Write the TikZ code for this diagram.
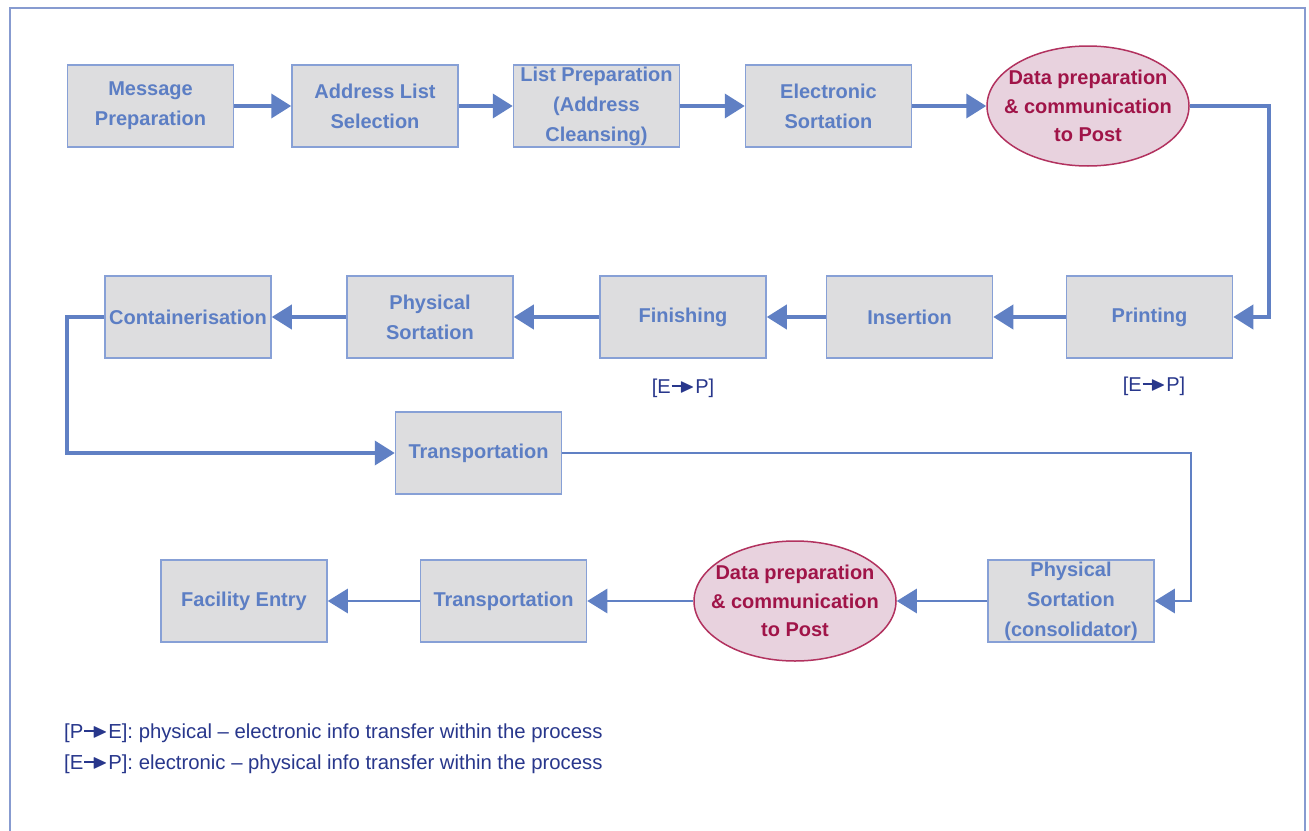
\documentclass[tikz,border=0pt]{standalone}
\usepackage{amssymb}
\usepackage{fontspec}
\setmainfont{Liberation Sans}
\usetikzlibrary{arrows.meta,shapes.geometric}

\definecolor{boxfill}{RGB}{221,221,223}
\definecolor{boxline}{RGB}{135,160,214}
\definecolor{boxtext}{RGB}{92,126,196}
\definecolor{flowblue}{RGB}{96,128,196}
\definecolor{ovalfill}{RGB}{232,210,222}
\definecolor{ovalline}{RGB}{178,50,95}
\definecolor{ovaltext}{RGB}{160,20,72}
\definecolor{legendtext}{RGB}{40,55,140}
\definecolor{framecol}{RGB}{135,155,208}

% small "line with filled head" symbol used in the [E->P] tags
\newcommand{\xfer}{\kern0.05em\rule[0.33em]{0.5em}{0.08em}\kern-0.12em\raisebox{0.02em}{$\blacktriangleright$}\kern0.02em}

\tikzset{
  stepbox/.style={draw=boxline, line width=1.5pt, fill=boxfill,
    minimum width=166pt, minimum height=82pt, inner sep=0pt, align=center,
    text=boxtext, font=\fontsize{20}{30}\selectfont\bfseries},
  oval/.style={ellipse, draw=ovalline, line width=1.5pt, fill=ovalfill,
    minimum width=202pt, minimum height=120pt, inner xsep=-13pt, inner ysep=0pt,
    align=center, text=ovaltext, font=\fontsize{20}{28.5}\selectfont\bfseries},
  flow/.style={draw=flowblue, line width=3.8pt,
    -{Triangle[length=20pt,width=24pt]}},
  flowthin/.style={draw=flowblue, line width=2.8pt,
    -{Triangle[length=20pt,width=24pt]}},
  tag/.style={text=legendtext, font=\fontsize{20}{24}\selectfont, inner sep=0pt},
  legend/.style={text=legendtext, font=\fontsize{20.3}{24}\selectfont,
    inner sep=0pt, anchor=west},
}

\begin{document}
\begin{tikzpicture}[x=1pt,y=-1pt]
  \fill[white] (0,0) rectangle (1309,830);
  \useasboundingbox (0,0) rectangle (1309,830);
  % outer frame (open at the bottom)
  \draw[framecol, line width=2pt] (10,850) -- (10,8) -- (1305,8) -- (1305,850);

  % rails for the routed connectors
  \coordinate (railR) at (1269,0);
  \coordinate (railL) at (67,0);
  \coordinate (railC) at (1191,0);

  % first row
  \node[stepbox] (msg)   at (150.5,106) {Message\\Preparation};
  \node[stepbox] (addr)  at (375,106)   {Address List\\Selection};
  \node[stepbox] (listp) at (596.5,106) {List Preparation\\(Address\\Cleansing)};
  \node[stepbox] (elec)  at (828.5,106) {Electronic\\Sortation};
  \node[oval]    (dp1)   at (1088,106)  {Data preparation\\\& communication\\to Post};

  % second row
  \node[stepbox] (print) at (1149.5,317) {Printing};
  \node[stepbox] (ins)   at (909.5,317)  {Insertion};
  \node[stepbox] (fin)   at (683,317)    {Finishing};
  \node[stepbox] (phys)  at (430,317)    {Physical\\Sortation};
  \node[stepbox] (cont)  at (188,317)    {Containerisation};

  \node[tag] (tagfin)   at (683,388)  {[E\xfer P]};
  \node[tag] (tagprint) at (1154,386) {[E\xfer P]};

  % middle
  \node[stepbox] (trans1) at (478.5,453) {Transportation};

  % third row
  \node[stepbox] (cons)   at (1071,601)  {Physical\\Sortation\\(consolidator)};
  \node[oval]    (dp2)    at (795,601)   {Data preparation\\\& communication\\to Post};
  \node[stepbox] (trans2) at (503.5,601) {Transportation};
  \node[stepbox] (fac)    at (244,601)   {Facility Entry};

  % connectors
  \draw[flow] (msg) -- (addr);
  \draw[flow] (addr) -- (listp);
  \draw[flow] (listp) -- (elec);
  \draw[flow] (elec) -- (dp1);
  \draw[flow] (dp1.east) -- (dp1.east -| railR) |- (print.east);
  \draw[flow] (print) -- (ins);
  \draw[flow] (ins) -- (fin);
  \draw[flow] (fin) -- (phys);
  \draw[flow] (phys) -- (cont);
  \draw[flow] (cont.west) -- (cont.west -| railL) |- (trans1.west);
  \draw[flowthin] (trans1.east) -- (trans1.east -| railC) |- (cons.east);
  \draw[flowthin] (cons) -- (dp2);
  \draw[flowthin] (dp2) -- (trans2);
  \draw[flowthin] (trans2) -- (fac);

  % legend
  \node[legend] (leg1) at (64,733) {[P\xfer E]: physical -- electronic info transfer within the process};
  \node[legend] (leg2) at (64,764) {[E\xfer P]: electronic -- physical info transfer within the process};
\end{tikzpicture}
\end{document}
